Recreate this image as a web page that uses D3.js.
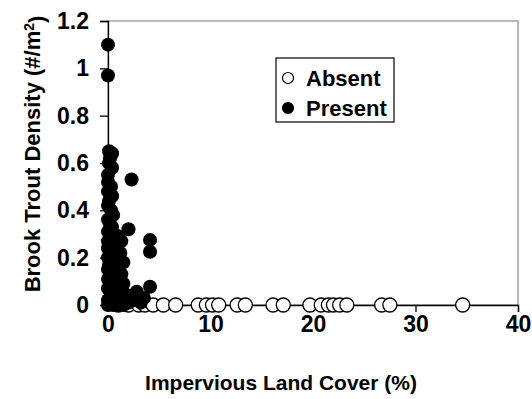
<!DOCTYPE html>
<html>
<head>
<meta charset="utf-8">
<script src="https://cdn.jsdelivr.net/npm/d3@7"></script>
<style>
  body { margin: 0; background: #fff; }
  svg text { font-family: "Liberation Sans", Arial, sans-serif; font-weight: bold; fill: #000; }
</style>
</head>
<body>
<div id="chart"></div>
<script>
// impervious land cover (%) for sites where brook trout were absent (density 0)
var absentX = [1.0, 2.0, 3.0, 3.6, 4.4, 5.4, 6.6, 8.8, 9.6, 10.2, 10.8, 12.6, 13.4, 16.1, 17.1,
               19.7, 20.8, 21.5, 22.0, 22.6, 23.3, 26.7, 27.5, 34.6];
// sites where brook trout were present: [impervious %, density]
var presentPts = [
  [0, 1.10], [0, 0.97],
  [0.1, 0.65], [0.4, 0.64], [0.2, 0.62], [0.1, 0.60], [0.4, 0.58], [0, 0.55],
  [2.3, 0.53],
  [0, 0.52], [0.3, 0.50], [0, 0.48], [0.4, 0.46], [0.1, 0.44], [0, 0.42], [0.3, 0.40],
  [0.5, 0.38], [0, 0.36], [0.2, 0.34], [0.4, 0.33],
  [2.0, 0.32],
  [0, 0.31], [0.6, 0.30], [0.2, 0.29], [1.0, 0.29], [0, 0.27], [1.3, 0.27], [0.7, 0.26],
  [4.1, 0.275], [4.1, 0.225],
  [0.3, 0.25], [0, 0.24], [0.8, 0.23], [1.2, 0.22], [0.2, 0.21], [0, 0.20], [0.6, 0.19],
  [1.5, 0.18], [0.1, 0.17], [1.0, 0.16], [0, 0.15], [0.5, 0.14], [1.3, 0.13], [0.2, 0.12],
  [0.9, 0.12], [0, 0.11], [0.7, 0.10], [1.5, 0.09], [0.3, 0.08], [1.1, 0.08], [0, 0.07],
  [1.4, 0.06], [0.6, 0.06],
  [4.1, 0.077], [2.8, 0.056],
  [0.5, 0.05], [1.9, 0.04], [0.2, 0.03], [1.0, 0.035], [0, 0.02], [1.3, 0.02], [0.8, 0.01],
  [0, 0], [0.5, 0], [1.0, 0], [1.5, 0], [2.0, 0.01], [3.5, 0.03], [2.5, 0.02], [3.2, 0.01]
];
var xTicks = [0, 10, 20, 30, 40];
var yTicks = [0, 0.2, 0.4, 0.6, 0.8, 1, 1.2];
var legendLabels = ['Absent', 'Present'];

var width = 532, height = 399;
var margin = {top: 21, right: 14, bottom: 94, left: 108};
var plotW = width - margin.left - margin.right,
    plotH = height - margin.top - margin.bottom;

var svg = d3.select('#chart').append('svg')
    .attr('width', width)
    .attr('height', height);

var g = svg.append('g')
    .attr('transform', 'translate(' + margin.left + ',' + margin.top + ')');

var x = d3.scaleLinear().domain([0, 40]).range([0, plotW]);
var y = d3.scaleLinear().domain([0, 1.2]).range([plotH, 0]);

// grey plot frame
g.append('rect')
    .attr('x', 0).attr('y', 0)
    .attr('width', plotW).attr('height', plotH)
    .attr('fill', 'none')
    .attr('stroke', '#8a8a8a')
    .attr('stroke-width', 1.2);

var xAxis = g.append('g')
    .attr('transform', 'translate(0,' + plotH + ')')
    .call(d3.axisBottom(x).tickValues(xTicks).tickSize(7).tickPadding(4).tickFormat(d3.format('d')));

var yAxis = g.append('g')
    .call(d3.axisLeft(y).tickValues(yTicks).tickSize(8).tickPadding(11).tickFormat(function (d) { return d3.format('~g')(d); }));

[xAxis, yAxis].forEach(function (a) {
  a.select('.domain').attr('stroke', '#000').attr('stroke-width', 1.3);
  a.selectAll('.tick line').attr('stroke', '#000').attr('stroke-width', 1.3);
  a.selectAll('.tick text')
    .style('font-family', '"Liberation Sans", Arial, sans-serif')
    .style('font-weight', 'bold')
    .style('font-size', '23px')
    .attr('fill', '#000');
});

var r = 7;

g.selectAll('circle.absent')
    .data(absentX)
    .enter()
    .append('circle')
    .attr('class', 'absent')
    .attr('cx', function (d) { return x(d); })
    .attr('cy', y(0))
    .attr('r', r)
    .attr('fill', '#fff')
    .attr('stroke', '#000')
    .attr('stroke-width', 1.3);

g.selectAll('circle.present')
    .data(presentPts)
    .enter()
    .append('circle')
    .attr('class', 'present')
    .attr('cx', function (d) { return x(d[0]); })
    .attr('cy', function (d) { return y(d[1]); })
    .attr('r', r)
    .attr('fill', '#000');

// legend
var legend = svg.append('g').attr('transform', 'translate(276,58)');
legend.append('rect')
    .attr('width', 118).attr('height', 64)
    .attr('fill', '#fff')
    .attr('stroke', '#000')
    .attr('stroke-width', 1.2);

legendLabels.forEach(function (lab, i) {
  var yy = 20 + i * 30;
  legend.append('circle')
      .attr('cx', 12).attr('cy', yy)
      .attr('r', 5.5)
      .attr('fill', i === 0 ? '#fff' : '#000')
      .attr('stroke', '#000')
      .attr('stroke-width', 1.2);
  legend.append('text')
      .attr('x', 30).attr('y', yy)
      .attr('dy', '0.36em')
      .style('font-size', '22px')
      .text(lab);
});

// axis titles
svg.append('text')
    .attr('x', margin.left + plotW / 2 - 32)
    .attr('y', 390)
    .attr('text-anchor', 'middle')
    .style('font-size', '21px')
    .text('Impervious Land Cover (%)');

var yt = svg.append('text')
    .attr('transform', 'translate(40,' + (margin.top + 133) + ') rotate(-90)')
    .attr('text-anchor', 'middle')
    .style('font-size', '22px');
yt.append('tspan').text('Brook Trout Density (#/m');
yt.append('tspan').attr('dy', '-0.45em').style('font-size', '14px').text('2');
yt.append('tspan').attr('dy', '0.45em').text(')');
</script>
</body>
</html>
